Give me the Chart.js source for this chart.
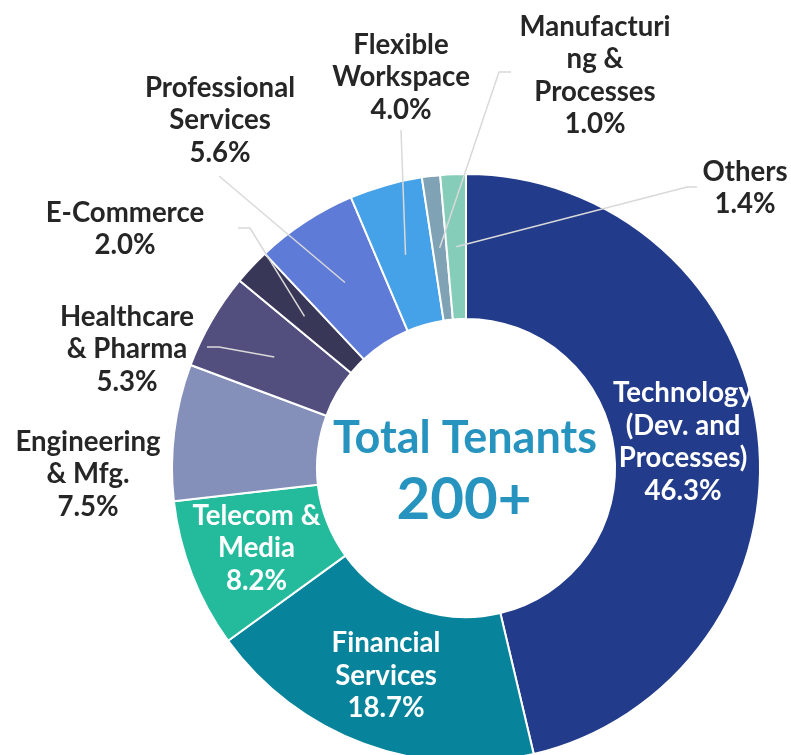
<!DOCTYPE html>
<html>
<head>
<meta charset="utf-8">
<script src="https://cdn.jsdelivr.net/npm/chart.js@4.4.1/dist/chart.umd.min.js"></script>
<style>
  html, body { margin: 0; padding: 0; background: #ffffff; overflow: hidden; width: 791px; height: 755px; }
  canvas { display: block; }
</style>
</head>
<body>
<canvas id="c" width="791" height="936"></canvas>
<script>
// ---- data ----
const categories = [
  ["Technology", "(Dev. and", "Processes)"],
  ["Financial", "Services"],
  ["Telecom &", "Media"],
  ["Engineering", "& Mfg."],
  ["Healthcare", "& Pharma"],
  ["E-Commerce"],
  ["Professional", "Services"],
  ["Flexible", "Workspace"],
  ["Manufacturi", "ng &", "Processes"],
  ["Others"]
];
const shares = [46.3, 18.7, 8.2, 7.5, 5.3, 2.0, 5.6, 4.0, 1.0, 1.4];
const centerTitle = "Total Tenants";
const centerValue = "200+";

// ---- styles / layout ----
const colors = ["#223B8A", "#07849B", "#24BB9C", "#8590BA", "#524F7E", "#383757", "#5F7BD8", "#45A1E8", "#7FA3B4", "#86CDB9"];
const FONT = "Lato, 'Open Sans', sans-serif";
const labelLayout = [
  { inside: true },
  { inside: true },
  { inside: true },
  { x: 88,  y: 442, leader: null },
  { x: 127, y: 317, leader: [[219, 347], [207, 347]] },
  { x: 125, y: 213, leader: [[250, 228], [238, 228]] },
  { x: 220, y: 88,  leader: [[219, 176]] },
  { x: 401, y: 45,  leader: [[401, 130]] },
  { x: 595, y: 27,  leader: [[499, 72], [511, 72]] },
  { x: 745, y: 172, leader: [[687, 187], [697, 187]] }
];
const LINE_H = 32.5;

function fitFont(ctx, text, target, weight) {
  ctx.font = weight + " 20px " + FONT;
  const w = ctx.measureText(text).width;
  return 20 * target / w;
}

const labelPlugin = {
  id: 'labelPlugin',
  afterDatasetsDraw(chart) {
    const ctx = chart.ctx;
    const meta = chart.getDatasetMeta(0);
    ctx.save();
    const fs = fitFont(ctx, "Professional", 150, "bold");
    ctx.textAlign = 'center';
    ctx.textBaseline = 'middle';
    meta.data.forEach((arc, i) => {
      const lay = labelLayout[i];
      const lines = categories[i].concat([shares[i].toFixed(1) + "%"]);
      const cp = arc.getCenterPoint();
      if (lay.inside) {
        ctx.fillStyle = "#ffffff";
        ctx.font = "bold " + fs + "px " + FONT;
        const y0 = cp.y - (lines.length - 1) * LINE_H / 2;
        lines.forEach((t, k) => ctx.fillText(t, cp.x - 3, y0 + k * LINE_H));
      } else {
        if (lay.leader) {
          ctx.strokeStyle = "#D9D9D9";
          ctx.lineWidth = 1.5;
          ctx.beginPath();
          ctx.moveTo(cp.x, cp.y);
          lay.leader.forEach(p => ctx.lineTo(p[0], p[1]));
          ctx.stroke();
        }
        ctx.fillStyle = "#262626";
        ctx.font = "bold " + fs + "px " + FONT;
        lines.forEach((t, k) => ctx.fillText(t, lay.x, lay.y + k * LINE_H));
      }
    });
    const a = meta.data[0];
    ctx.fillStyle = "#2694BF";
    const f1 = fitFont(ctx, centerTitle, 264, "bold");
    ctx.font = "bold " + f1 + "px " + FONT;
    ctx.fillText(centerTitle, a.x - 1, 438);
    const f2 = fitFont(ctx, centerValue, 135, "bold");
    ctx.font = "bold " + f2 + "px " + FONT;
    ctx.fillText(centerValue, a.x - 2, 500);
    ctx.restore();
  }
};

new Chart(document.getElementById('c'), {
  type: 'doughnut',
  data: {
    labels: categories.map(c => c.join(" ")),
    datasets: [{
      data: shares,
      backgroundColor: colors,
      borderColor: "#ffffff",
      borderWidth: 2
    }]
  },
  options: {
    responsive: false,
    devicePixelRatio: 1,
    animation: false,
    cutout: '50.7%',
    rotation: 0,
    layout: { padding: { left: 171, right: 30, top: 173, bottom: 173 } },
    plugins: { legend: { display: false }, tooltip: { enabled: false } }
  },
  plugins: [labelPlugin]
});
</script>
</body>
</html>
